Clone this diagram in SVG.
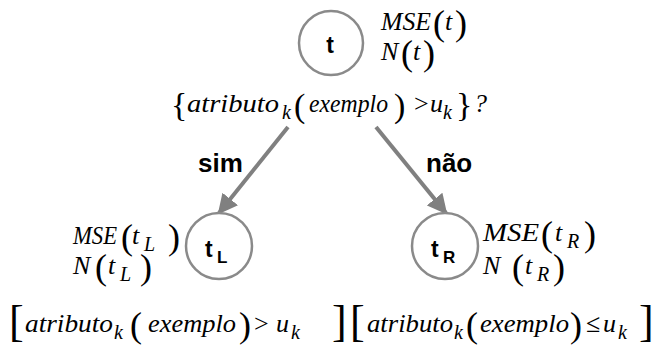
<svg xmlns="http://www.w3.org/2000/svg" width="657" height="350" viewBox="0 0 657 350">
<style>
.m{font-family:"Liberation Serif","Times New Roman",serif;font-style:italic;font-size:26px;fill:#000}
.s{font-family:"Liberation Serif","Times New Roman",serif;font-style:italic;font-size:20px;fill:#000}
.p{font-family:"Liberation Serif","Times New Roman",serif;font-size:36px;fill:#000}
.b{font-family:"Liberation Serif","Times New Roman",serif;font-size:44px;fill:#000}
.o{font-family:"Liberation Serif","Times New Roman",serif;font-size:26px;fill:#000}
.n{font-family:"Liberation Sans",Arial,sans-serif;font-weight:bold;font-size:23px;fill:#000}
.ns{font-family:"Liberation Sans",Arial,sans-serif;font-weight:bold;font-size:17px;fill:#000}
.lbl{font-family:"Liberation Sans",Arial,sans-serif;font-weight:bold;font-size:26px;fill:#000}
.c{fill:#fff;stroke:#8a8a8a;stroke-width:2.5}
.e{stroke:#808080;stroke-width:4;fill:none}
</style>
<defs>
<marker id="ah" viewBox="0 0 10 10" refX="9" refY="5" markerWidth="5" markerHeight="5" orient="auto" markerUnits="strokeWidth">
<path d="M0,0 L10,5 L0,10 z" fill="#808080"/>
</marker>
</defs>
<g id="connectors">
<line class="e" x1="288" y1="127" x2="219" y2="213" marker-end="url(#ah)"/>
<line class="e" x1="376" y1="127" x2="446" y2="213" marker-end="url(#ah)"/>
<text class="lbl" x="198" y="172">sim</text>
<text class="lbl" x="426" y="172">não</text>
</g>
<g id="node-t">
<circle class="c" cx="331" cy="43" r="32"/>
<text class="n" x="330" y="53" text-anchor="middle">t</text>
<text class="m" x="381" y="30" textLength="50" lengthAdjust="spacingAndGlyphs">MSE</text>
<text class="p" x="433" y="35">(</text>
<text class="m" x="445" y="30">t</text>
<text class="p" x="455" y="35">)</text>
<text class="m" x="381" y="60">N</text>
<text class="p" x="401" y="65">(</text>
<text class="m" x="413" y="60">t</text>
<text class="p" x="423" y="65">)</text>
<text class="p" x="171" y="116" style="font-size:34px">{</text>
<text class="m" x="187" y="112" textLength="92" lengthAdjust="spacingAndGlyphs">atributo</text>
<text class="s" x="282" y="119">k</text>
<text class="p" x="294" y="117" style="font-size:34px">(</text>
<text class="m" x="309" y="112" textLength="79" lengthAdjust="spacingAndGlyphs">exemplo</text>
<text class="p" x="394" y="117" style="font-size:34px">)</text>
<text class="o" x="414" y="112">&gt;</text>
<text class="m" x="430" y="112">u</text>
<text class="s" x="443" y="119">k</text>
<text class="p" x="456" y="116" style="font-size:34px">}</text>
<text class="m" x="474" y="112">?</text>
</g>
<g id="node-tL">
<circle class="c" cx="219" cy="246" r="33"/>
<text class="n" x="205" y="257">t</text>
<text class="ns" x="217" y="263">L</text>
<text class="m" x="73" y="244" textLength="44" lengthAdjust="spacingAndGlyphs">MSE</text>
<text class="p" x="121" y="249">(</text>
<text class="m" x="132" y="244">t</text>
<text class="s" x="144" y="251">L</text>
<text class="p" x="168" y="249">)</text>
<text class="m" x="73" y="274">N</text>
<text class="p" x="95" y="279">(</text>
<text class="m" x="108" y="274">t</text>
<text class="s" x="120" y="281">L</text>
<text class="p" x="140" y="279">)</text>
<text class="b" x="9" y="336">[</text>
<text class="m" x="25" y="332" textLength="88" lengthAdjust="spacingAndGlyphs">atributo</text>
<text class="s" x="114" y="339">k</text>
<text class="p" x="130" y="337">(</text>
<text class="m" x="148" y="332" textLength="88" lengthAdjust="spacingAndGlyphs">exemplo</text>
<text class="p" x="239" y="337">)</text>
<text class="o" x="254" y="332">&gt;</text>
<text class="m" x="276" y="332">u</text>
<text class="s" x="291" y="339">k</text>
<text class="b" x="332" y="336">]</text>
</g>
<g id="node-tR">
<circle class="c" cx="445" cy="246" r="33"/>
<text class="n" x="431" y="257">t</text>
<text class="ns" x="443" y="263">R</text>
<text class="m" x="483" y="241" textLength="56" lengthAdjust="spacingAndGlyphs">MSE</text>
<text class="p" x="541" y="246">(</text>
<text class="m" x="555" y="241">t</text>
<text class="s" x="567" y="248">R</text>
<text class="p" x="584" y="246">)</text>
<text class="m" x="483" y="274">N</text>
<text class="p" x="512" y="279">(</text>
<text class="m" x="525" y="274">t</text>
<text class="s" x="537" y="281">R</text>
<text class="p" x="553" y="279">)</text>
<text class="b" x="350" y="336">[</text>
<text class="m" x="367" y="332" textLength="86" lengthAdjust="spacingAndGlyphs">atributo</text>
<text class="s" x="454" y="339">k</text>
<text class="p" x="466" y="337">(</text>
<text class="m" x="480" y="332" textLength="89" lengthAdjust="spacingAndGlyphs">exemplo</text>
<text class="p" x="570" y="337">)</text>
<text class="o" x="586" y="332">≤</text>
<text class="m" x="603" y="332">u</text>
<text class="s" x="618" y="339">k</text>
<text class="b" x="639" y="336">]</text>
</g>
</svg>
